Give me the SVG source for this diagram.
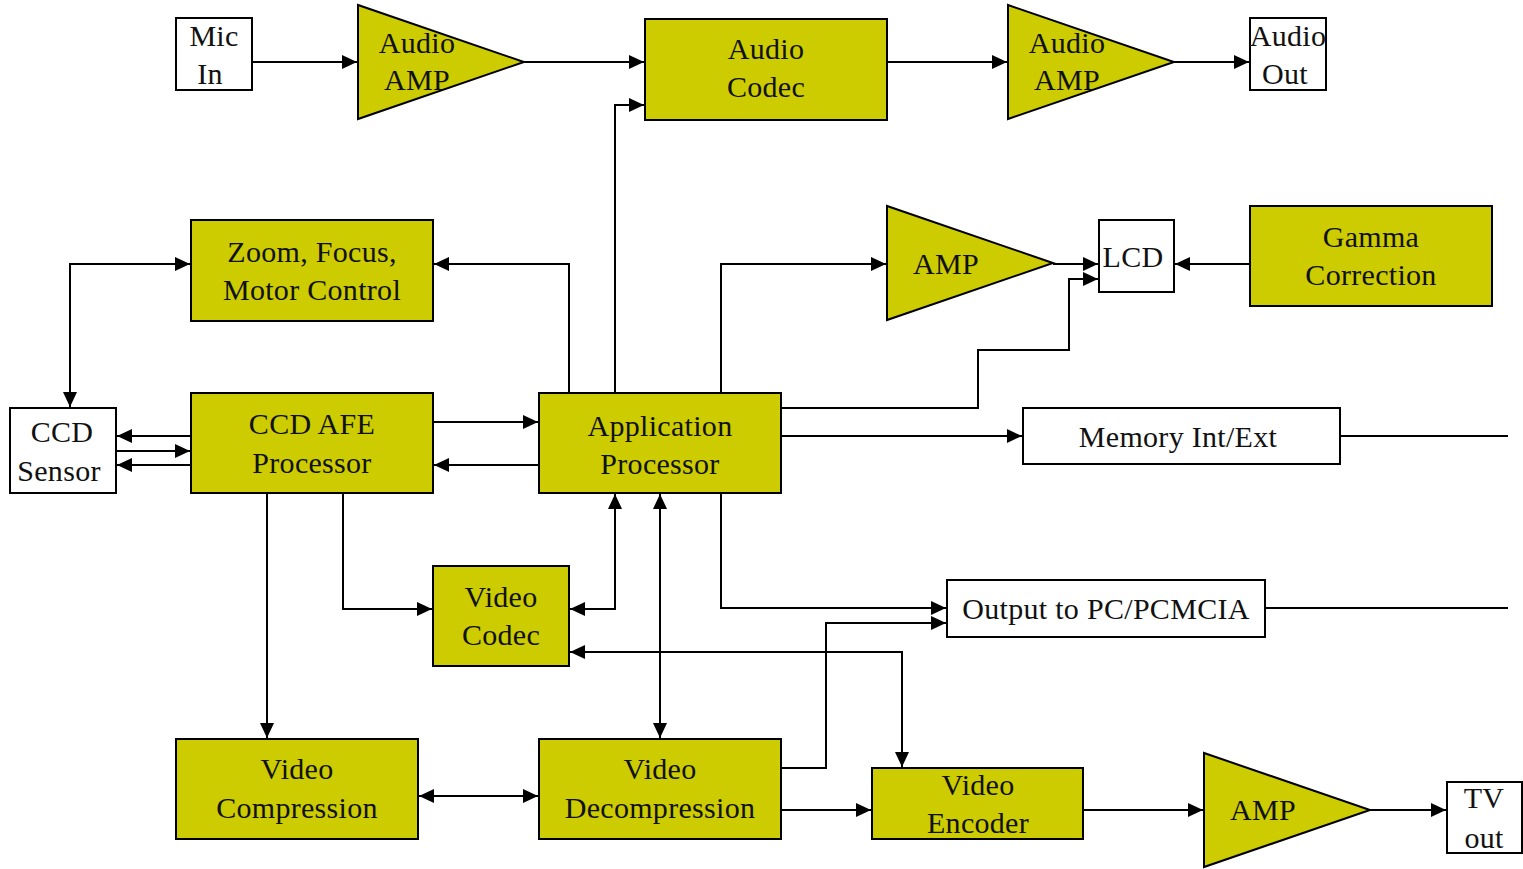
<svg xmlns="http://www.w3.org/2000/svg" width="1523" height="869" viewBox="0 0 1523 869">
  <style>
    .blk { fill: #CCCC00; stroke: #000; stroke-width: 2; }
    .box { fill: #fff; stroke: #000; stroke-width: 2; }
    .lbl { font-family: "Liberation Serif", "DejaVu Serif", serif; font-size: 30px; letter-spacing: 0.3px; fill: #111; text-anchor: middle; }
    .wire { fill: none; stroke: #000; stroke-width: 2; }
  </style>
  <defs>
    <marker id="ah" markerUnits="userSpaceOnUse" markerWidth="16" markerHeight="14" refX="15" refY="7" orient="auto-start-reverse">
      <path d="M0,0 L15,7 L0,14 Z" fill="#000"/>
    </marker>
  </defs>
  <rect width="1523" height="869" fill="#fff"/>

  <!-- connectors -->
  <g id="connectors" class="wire">
    <path d="M252,62 H357" marker-end="url(#ah)"/>
    <path d="M524,62 H644" marker-end="url(#ah)"/>
    <path d="M887,62 H1007" marker-end="url(#ah)"/>
    <path d="M1174,62 H1249" marker-end="url(#ah)"/>
    <path d="M615,393 V105 H644" marker-end="url(#ah)"/>
    <path d="M569,393 V264 H434" marker-end="url(#ah)"/>
    <path d="M190,264 H70 V407" marker-start="url(#ah)" marker-end="url(#ah)"/>
    <path d="M721,393 V264 H886" marker-end="url(#ah)"/>
    <path d="M1053,264 H1098" marker-end="url(#ah)"/>
    <path d="M781,408 H978 V350 H1069 V279 H1098" marker-end="url(#ah)"/>
    <path d="M1250,264 H1175" marker-end="url(#ah)"/>
    <path d="M781,436 H1022" marker-end="url(#ah)"/>
    <path d="M1340,436 H1508"/>
    <path d="M1265,608 H1508"/>
    <path d="M191,436 H117" marker-end="url(#ah)"/>
    <path d="M116,451 H190" marker-end="url(#ah)"/>
    <path d="M191,465 H117" marker-end="url(#ah)"/>
    <path d="M433,422 H538" marker-end="url(#ah)"/>
    <path d="M539,465 H434" marker-end="url(#ah)"/>
    <path d="M267,493 V738" marker-end="url(#ah)"/>
    <path d="M343,493 V609 H432" marker-end="url(#ah)"/>
    <path d="M570,609 H615 V494" marker-start="url(#ah)" marker-end="url(#ah)"/>
    <path d="M660,494 V738" marker-start="url(#ah)" marker-end="url(#ah)"/>
    <path d="M721,493 V608 H946" marker-end="url(#ah)"/>
    <path d="M781,768 H826 V623 H946" marker-end="url(#ah)"/>
    <path d="M570,652 H902 V767" marker-start="url(#ah)" marker-end="url(#ah)"/>
    <path d="M419,796 H538" marker-start="url(#ah)" marker-end="url(#ah)"/>
    <path d="M781,810 H871" marker-end="url(#ah)"/>
    <path d="M1083,810 H1203" marker-end="url(#ah)"/>
    <path d="M1370,810 H1446" marker-end="url(#ah)"/>
  </g>

  <!-- audio chain -->
  <g id="mic-in">
    <rect class="box" x="176" y="18" width="76" height="72"/>
    <text class="lbl" x="214" y="46">Mic</text>
    <text class="lbl" x="210" y="84">In</text>
  </g>
  <g id="audio-amp-in">
    <polygon class="blk" points="358,5 358,119 524,62"/>
    <text class="lbl" x="417" y="53">Audio</text>
    <text class="lbl" x="417" y="90">AMP</text>
  </g>
  <g id="audio-codec">
    <rect class="blk" x="645" y="19" width="242" height="101"/>
    <text class="lbl" x="766" y="59">Audio</text>
    <text class="lbl" x="766" y="97">Codec</text>
  </g>
  <g id="audio-amp-out">
    <polygon class="blk" points="1008,5 1008,119 1174,62"/>
    <text class="lbl" x="1067" y="53">Audio</text>
    <text class="lbl" x="1067" y="90">AMP</text>
  </g>
  <g id="audio-out">
    <rect class="box" x="1250" y="18" width="76" height="72"/>
    <text class="lbl" x="1288" y="46">Audio</text>
    <text class="lbl" x="1285" y="84">Out</text>
  </g>

  <!-- display chain -->
  <g id="zoom-focus">
    <rect class="blk" x="191" y="220" width="242" height="101"/>
    <text class="lbl" x="312" y="262">Zoom, Focus,</text>
    <text class="lbl" x="312" y="300">Motor Control</text>
  </g>
  <g id="lcd-amp">
    <polygon class="blk" points="887,206 887,320 1053,263"/>
    <text class="lbl" x="946" y="274">AMP</text>
  </g>
  <g id="lcd">
    <rect class="box" x="1099" y="220" width="75" height="72"/>
    <text class="lbl" x="1133" y="267">LCD</text>
  </g>
  <g id="gamma-correction">
    <rect class="blk" x="1250" y="206" width="242" height="100"/>
    <text class="lbl" x="1371" y="247">Gamma</text>
    <text class="lbl" x="1371" y="285">Correction</text>
  </g>

  <!-- core -->
  <g id="ccd-sensor">
    <rect class="box" x="10" y="408" width="106" height="85"/>
    <text class="lbl" x="62" y="442">CCD</text>
    <text class="lbl" x="59" y="481">Sensor</text>
  </g>
  <g id="ccd-afe">
    <rect class="blk" x="191" y="393" width="242" height="100"/>
    <text class="lbl" x="312" y="434">CCD AFE</text>
    <text class="lbl" x="312" y="473">Processor</text>
  </g>
  <g id="app-processor">
    <rect class="blk" x="539" y="393" width="242" height="100"/>
    <text class="lbl" x="660" y="436">Application</text>
    <text class="lbl" x="660" y="474">Processor</text>
  </g>
  <g id="memory">
    <rect class="box" x="1023" y="408" width="317" height="56"/>
    <text class="lbl" x="1178" y="447">Memory Int/Ext</text>
  </g>
  <g id="video-codec">
    <rect class="blk" x="433" y="566" width="136" height="100"/>
    <text class="lbl" x="501" y="607">Video</text>
    <text class="lbl" x="501" y="645">Codec</text>
  </g>
  <g id="output-pc">
    <rect class="box" x="947" y="580" width="318" height="57"/>
    <text class="lbl" x="1106" y="619">Output to PC/PCMCIA</text>
  </g>

  <!-- video chain -->
  <g id="video-compression">
    <rect class="blk" x="176" y="739" width="242" height="100"/>
    <text class="lbl" x="297" y="779">Video</text>
    <text class="lbl" x="297" y="818">Compression</text>
  </g>
  <g id="video-decompression">
    <rect class="blk" x="539" y="739" width="242" height="100"/>
    <text class="lbl" x="660" y="779">Video</text>
    <text class="lbl" x="660" y="818">Decompression</text>
  </g>
  <g id="video-encoder">
    <rect class="blk" x="872" y="768" width="211" height="71"/>
    <text class="lbl" x="978" y="795">Video</text>
    <text class="lbl" x="978" y="833">Encoder</text>
  </g>
  <g id="tv-amp">
    <polygon class="blk" points="1204,753 1204,867 1370,810"/>
    <text class="lbl" x="1263" y="820">AMP</text>
  </g>
  <g id="tv-out">
    <rect class="box" x="1447" y="782" width="75" height="71"/>
    <text class="lbl" x="1484" y="808">TV</text>
    <text class="lbl" x="1484" y="848">out</text>
  </g>
</svg>
